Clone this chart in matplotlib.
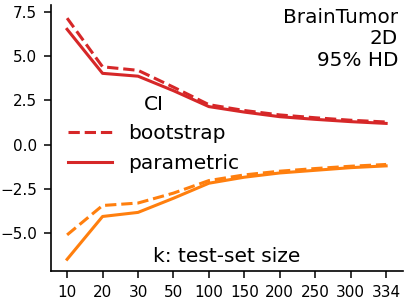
import numpy as np
import matplotlib.pyplot as plt

k = ['10', '20', '30', '50', '100', '150', '200', '250', '300', '334']

# upper / lower CI bounds
boot_hi = [7.15, 4.4, 4.2, 3.25, 2.26, 1.93, 1.68, 1.52, 1.38, 1.28]
boot_lo = [-5.1, -3.44, -3.3, -2.74, -2.03, -1.71, -1.5, -1.35, -1.22, -1.12]
param_hi = [6.52, 4.03, 3.87, 3.05, 2.15, 1.84, 1.58, 1.43, 1.3, 1.2]
param_lo = [-6.48, -4.06, -3.83, -3.03, -2.18, -1.84, -1.6, -1.45, -1.3, -1.2]

red = '#d62728'
orange = '#ff7f0e'

fig = plt.figure(figsize=(4.06, 3.05), dpi=100)
ax = fig.add_axes([0.126, 0.111, 0.867, 0.873])
x = np.arange(len(k))

ax.plot(x, boot_hi, '--', color=red, lw=2.2, label='bootstrap')
ax.plot(x, param_hi, '-', color=red, lw=2.2, label='parametric')
ax.plot(x, boot_lo, '--', color=orange, lw=2.2)
ax.plot(x, param_lo, '-', color=orange, lw=2.2)

ax.set_xticks(x)
ax.set_xticklabels(k)
ax.set_yticks([-5.0, -2.5, 0.0, 2.5, 5.0, 7.5])
ax.set_xlim(-0.45, 9.48)
ax.set_ylim(-7.15, 7.9)
ax.tick_params(labelsize=11, length=5, width=1.1, pad=5)
for s in ['left', 'bottom']:
    ax.spines[s].set_linewidth(1.2)
ax.spines['top'].set_visible(False)
ax.spines['right'].set_visible(False)

ax.text(0.985, 0.99, 'BrainTumor\n2D\n95% HD', transform=ax.transAxes,
        ha='right', va='top', fontsize=14.4, linespacing=1.18)
ax.text(0.5, 0.055, 'k: test-set size', transform=ax.transAxes,
        ha='center', va='center', fontsize=14.5)
ax.legend(title='CI', loc='upper left', bbox_to_anchor=(0.008, 0.715),
          frameon=False, fontsize=14.5, title_fontsize=14.5,
          handlelength=2.2, labelspacing=0.52, borderaxespad=0.3)

plt.savefig('out.png', dpi=100)
